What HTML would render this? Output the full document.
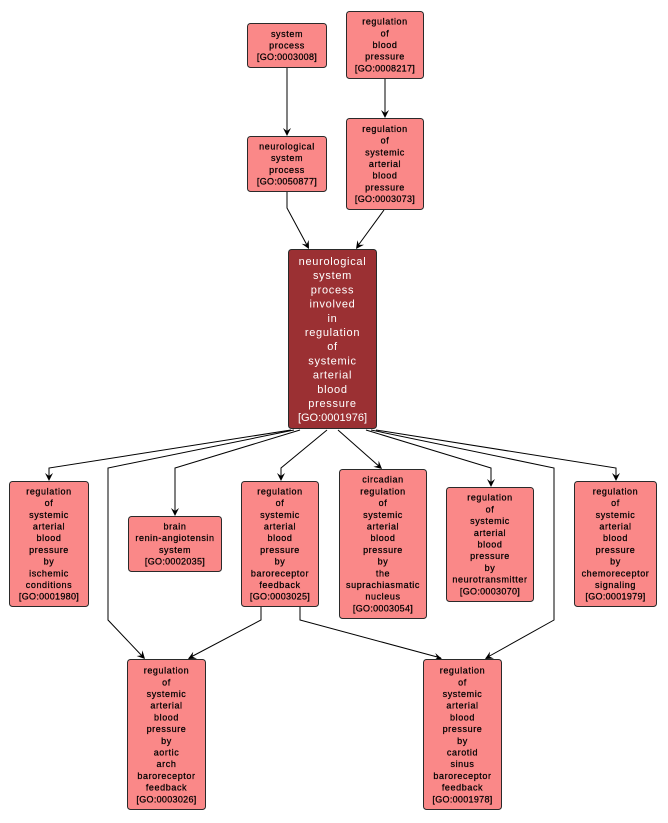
<!DOCTYPE html>
<html><head><meta charset="utf-8"><style>
html,body{margin:0;padding:0;background:#fff;}
svg{display:block;}
.n{fill:#fa8888;stroke:#2a2a2a;stroke-width:1;}
.m{fill:#9b3033;stroke:#2a2a2a;stroke-width:1;}
.t{font-family:"Liberation Sans",sans-serif;font-size:9px;fill:#000;stroke:#000;stroke-width:0.25px;text-anchor:middle;letter-spacing:0.6px;}
.g{letter-spacing:0.3px;}
.w{font-family:"Liberation Sans",sans-serif;font-size:11px;fill:#fff;text-anchor:middle;letter-spacing:0.7px;}
.wg{letter-spacing:0px;}
.e{fill:none;stroke:#000;stroke-width:1;}
.a{fill:#000;stroke:none;}
</style></head><body>
<svg width="668" height="823" viewBox="0 0 668 823" xmlns="http://www.w3.org/2000/svg">
<!-- edges -->
<polyline class="e" points="287,68 287,134"/>
<polygon class="a" points="287,136 283,128 287,131 291,128"/>
<polyline class="e" points="385,79 385,116"/>
<polygon class="a" points="385,118 381,110 385,113 389,110"/>
<polyline class="e" points="287,192 287,208 308,247"/>
<polygon class="a" points="309,249 301.7,243.8 306.6,244.6 308.7,240.0"/>
<polyline class="e" points="384,210 357,247"/>
<polygon class="a" points="356,249 357.4,240.2 358.9,244.9 364.0,244.8"/>

<polyline class="e" points="291,430 49,468 49,479"/>
<polygon class="a" points="49,481 45,473 49,476 53,473"/>
<polyline class="e" points="294,430 108,468 108,620 144,658"/>
<polygon class="a" points="145,659 136.6,656.0 141.6,655.4 142.4,650.4"/>
<polyline class="e" points="300,430 175,468 175,514"/>
<polygon class="a" points="175,516 171,508 175,511 179,508"/>
<polyline class="e" points="327,430 281,468 281,479"/>
<polygon class="a" points="281,481 277,473 281,476 285,473"/>
<polyline class="e" points="338,430 381,468"/>
<polygon class="a" points="382,469 373.4,466.7 378.3,465.7 378.7,460.7"/>
<polyline class="e" points="366,430 491,468 491,485"/>
<polygon class="a" points="491,487 487,479 491,482 495,479"/>
<polyline class="e" points="371,430 554,468 554,620 486,658"/>
<polygon class="a" points="485,659 490.0,651.6 489.4,656.5 494.0,658.6"/>
<polyline class="e" points="376,430 616,468 616,479"/>
<polygon class="a" points="616,481 612,473 616,476 620,473"/>

<polyline class="e" points="261,607 261,620 189,658"/>
<polygon class="a" points="188,659 193.2,651.7 192.4,656.6 197.0,658.7"/>
<polyline class="e" points="300,607 300,620 441,658"/>
<polygon class="a" points="442,659 435.3,653.0 437.2,657.7 433.2,660.7"/>

<!-- nodes -->
<rect class="n" x="247.5" y="23.5" width="79" height="44" rx="3"/>
<text class="t" y="36.8"><tspan x="287">system</tspan><tspan x="287" dy="11.7">process</tspan><tspan class="g" x="287" dy="11.7">[GO:0003008]</tspan></text>

<rect class="n" x="346.5" y="11.5" width="77" height="67" rx="3"/>
<text class="t" y="24.6"><tspan x="385">regulation</tspan><tspan x="385" dy="11.7">of</tspan><tspan x="385" dy="11.7">blood</tspan><tspan x="385" dy="11.7">pressure</tspan><tspan class="g" x="385" dy="11.7">[GO:0008217]</tspan></text>

<rect class="n" x="247.5" y="136.5" width="79" height="55" rx="3"/>
<text class="t" y="149.4"><tspan x="287">neurological</tspan><tspan x="287" dy="11.7">system</tspan><tspan x="287" dy="11.7">process</tspan><tspan class="g" x="287" dy="11.7">[GO:0050877]</tspan></text>

<rect class="n" x="346.5" y="118.5" width="77" height="91" rx="3"/>
<text class="t" y="131.9"><tspan x="385">regulation</tspan><tspan x="385" dy="11.7">of</tspan><tspan x="385" dy="11.7">systemic</tspan><tspan x="385" dy="11.7">arterial</tspan><tspan x="385" dy="11.7">blood</tspan><tspan x="385" dy="11.7">pressure</tspan><tspan class="g" x="385" dy="11.7">[GO:0003073]</tspan></text>

<rect class="m" x="288.5" y="249.5" width="88" height="179" rx="3"/>
<text class="w" y="265"><tspan x="332.5">neurological</tspan><tspan x="332.5" dy="14.2">system</tspan><tspan x="332.5" dy="14.2">process</tspan><tspan x="332.5" dy="14.2">involved</tspan><tspan x="332.5" dy="14.2">in</tspan><tspan x="332.5" dy="14.2">regulation</tspan><tspan x="332.5" dy="14.2">of</tspan><tspan x="332.5" dy="14.2">systemic</tspan><tspan x="332.5" dy="14.2">arterial</tspan><tspan x="332.5" dy="14.2">blood</tspan><tspan x="332.5" dy="14.2">pressure</tspan><tspan class="wg" x="332.5" dy="14.2">[GO:0001976]</tspan></text>

<rect class="n" x="9.5" y="481.5" width="79" height="125" rx="3"/>
<text class="t" y="494.4"><tspan x="49">regulation</tspan><tspan x="49" dy="11.7">of</tspan><tspan x="49" dy="11.7">systemic</tspan><tspan x="49" dy="11.7">arterial</tspan><tspan x="49" dy="11.7">blood</tspan><tspan x="49" dy="11.7">pressure</tspan><tspan x="49" dy="11.7">by</tspan><tspan x="49" dy="11.7">ischemic</tspan><tspan x="49" dy="11.7">conditions</tspan><tspan class="g" x="49" dy="11.7">[GO:0001980]</tspan></text>

<rect class="n" x="128.5" y="516.5" width="93" height="55" rx="3"/>
<text class="t" y="529.4"><tspan x="175">brain</tspan><tspan x="175" dy="11.7">renin-angiotensin</tspan><tspan x="175" dy="11.7">system</tspan><tspan class="g" x="175" dy="11.7">[GO:0002035]</tspan></text>

<rect class="n" x="241.5" y="481.5" width="77" height="125" rx="3"/>
<text class="t" y="494.4"><tspan x="280">regulation</tspan><tspan x="280" dy="11.7">of</tspan><tspan x="280" dy="11.7">systemic</tspan><tspan x="280" dy="11.7">arterial</tspan><tspan x="280" dy="11.7">blood</tspan><tspan x="280" dy="11.7">pressure</tspan><tspan x="280" dy="11.7">by</tspan><tspan x="280" dy="11.7">baroreceptor</tspan><tspan x="280" dy="11.7">feedback</tspan><tspan class="g" x="280" dy="11.7">[GO:0003025]</tspan></text>

<rect class="n" x="339.5" y="469.5" width="87" height="149" rx="3"/>
<text class="t" y="482.7"><tspan x="383">circadian</tspan><tspan x="383" dy="11.7">regulation</tspan><tspan x="383" dy="11.7">of</tspan><tspan x="383" dy="11.7">systemic</tspan><tspan x="383" dy="11.7">arterial</tspan><tspan x="383" dy="11.7">blood</tspan><tspan x="383" dy="11.7">pressure</tspan><tspan x="383" dy="11.7">by</tspan><tspan x="383" dy="11.7">the</tspan><tspan x="383" dy="11.7">suprachiasmatic</tspan><tspan x="383" dy="11.7">nucleus</tspan><tspan class="g" x="383" dy="11.7">[GO:0003054]</tspan></text>

<rect class="n" x="446.5" y="487.5" width="87" height="114" rx="3"/>
<text class="t" y="500.7"><tspan x="490">regulation</tspan><tspan x="490" dy="11.7">of</tspan><tspan x="490" dy="11.7">systemic</tspan><tspan x="490" dy="11.7">arterial</tspan><tspan x="490" dy="11.7">blood</tspan><tspan x="490" dy="11.7">pressure</tspan><tspan x="490" dy="11.7">by</tspan><tspan x="490" dy="11.7">neurotransmitter</tspan><tspan class="g" x="490" dy="11.7">[GO:0003070]</tspan></text>

<rect class="n" x="574.5" y="481.5" width="82" height="125" rx="3"/>
<text class="t" y="494.4"><tspan x="615.5">regulation</tspan><tspan x="615.5" dy="11.7">of</tspan><tspan x="615.5" dy="11.7">systemic</tspan><tspan x="615.5" dy="11.7">arterial</tspan><tspan x="615.5" dy="11.7">blood</tspan><tspan x="615.5" dy="11.7">pressure</tspan><tspan x="615.5" dy="11.7">by</tspan><tspan x="615.5" dy="11.7">chemoreceptor</tspan><tspan x="615.5" dy="11.7">signaling</tspan><tspan class="g" x="615.5" dy="11.7">[GO:0001979]</tspan></text>

<rect class="n" x="127.5" y="659.5" width="78" height="150" rx="3"/>
<text class="t" y="673.6"><tspan x="166.5">regulation</tspan><tspan x="166.5" dy="11.7">of</tspan><tspan x="166.5" dy="11.7">systemic</tspan><tspan x="166.5" dy="11.7">arterial</tspan><tspan x="166.5" dy="11.7">blood</tspan><tspan x="166.5" dy="11.7">pressure</tspan><tspan x="166.5" dy="11.7">by</tspan><tspan x="166.5" dy="11.7">aortic</tspan><tspan x="166.5" dy="11.7">arch</tspan><tspan x="166.5" dy="11.7">baroreceptor</tspan><tspan x="166.5" dy="11.7">feedback</tspan><tspan class="g" x="166.5" dy="11.7">[GO:0003026]</tspan></text>

<rect class="n" x="423.5" y="659.5" width="78" height="150" rx="3"/>
<text class="t" y="673.6"><tspan x="462.5">regulation</tspan><tspan x="462.5" dy="11.7">of</tspan><tspan x="462.5" dy="11.7">systemic</tspan><tspan x="462.5" dy="11.7">arterial</tspan><tspan x="462.5" dy="11.7">blood</tspan><tspan x="462.5" dy="11.7">pressure</tspan><tspan x="462.5" dy="11.7">by</tspan><tspan x="462.5" dy="11.7">carotid</tspan><tspan x="462.5" dy="11.7">sinus</tspan><tspan x="462.5" dy="11.7">baroreceptor</tspan><tspan x="462.5" dy="11.7">feedback</tspan><tspan class="g" x="462.5" dy="11.7">[GO:0001978]</tspan></text>
</svg>
</body></html>
